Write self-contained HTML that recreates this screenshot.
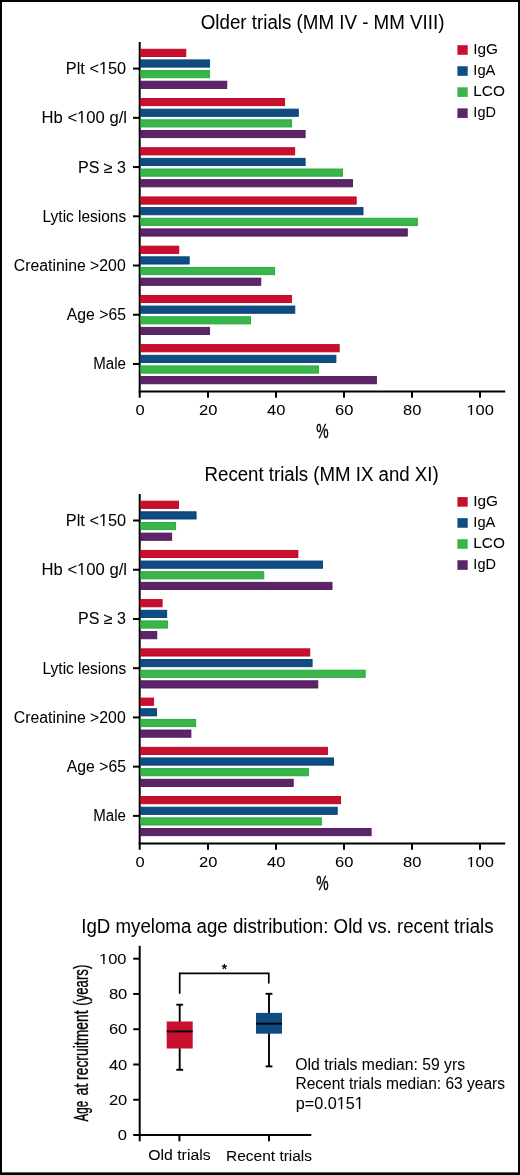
<!DOCTYPE html>
<html><head><meta charset="utf-8"><title>IgD myeloma charts</title><style>html,body{margin:0;padding:0;background:#fff;}svg{display:block;will-change:transform;}</style></head>
<body><svg width="520" height="1175" viewBox="0 0 520 1175" font-family="'Liberation Sans', sans-serif" fill="#000">
<rect x="0" y="0" width="520" height="1175" fill="#fff"/>
<line x1="139.7" y1="42" x2="139.7" y2="397.8" stroke="#000" stroke-width="2.0"/>
<line x1="138.7" y1="391.6" x2="505.2" y2="391.6" stroke="#000" stroke-width="2.0"/>
<line x1="208.00" y1="391.6" x2="208.00" y2="397.8" stroke="#000" stroke-width="2.0"/>
<line x1="276.00" y1="391.6" x2="276.00" y2="397.8" stroke="#000" stroke-width="2.0"/>
<line x1="344.00" y1="391.6" x2="344.00" y2="397.8" stroke="#000" stroke-width="2.0"/>
<line x1="412.00" y1="391.6" x2="412.00" y2="397.8" stroke="#000" stroke-width="2.0"/>
<line x1="480.00" y1="391.6" x2="480.00" y2="397.8" stroke="#000" stroke-width="2.0"/>
<line x1="133" y1="68.60" x2="139.7" y2="68.60" stroke="#000" stroke-width="2.0"/>
<rect x="140.70" y="49.25" width="45.10" height="7.2" fill="#c8102e" stroke="#b8001f" stroke-width="0.9"/>
<rect x="140.70" y="59.90" width="68.90" height="7.2" fill="#0f4c81" stroke="#003f73" stroke-width="0.9"/>
<rect x="140.70" y="70.55" width="68.90" height="7.2" fill="#3ab54a" stroke="#22a83a" stroke-width="0.9"/>
<rect x="140.70" y="81.20" width="86.10" height="7.2" fill="#5c2568" stroke="#4d155a" stroke-width="0.9"/>
<line x1="133" y1="117.83" x2="139.7" y2="117.83" stroke="#000" stroke-width="2.0"/>
<rect x="140.70" y="98.48" width="143.90" height="7.2" fill="#c8102e" stroke="#b8001f" stroke-width="0.9"/>
<rect x="140.70" y="109.13" width="157.60" height="7.2" fill="#0f4c81" stroke="#003f73" stroke-width="0.9"/>
<rect x="140.70" y="119.78" width="150.80" height="7.2" fill="#3ab54a" stroke="#22a83a" stroke-width="0.9"/>
<rect x="140.70" y="130.43" width="164.40" height="7.2" fill="#5c2568" stroke="#4d155a" stroke-width="0.9"/>
<line x1="133" y1="167.06" x2="139.7" y2="167.06" stroke="#000" stroke-width="2.0"/>
<rect x="140.70" y="147.71" width="154.00" height="7.2" fill="#c8102e" stroke="#b8001f" stroke-width="0.9"/>
<rect x="140.70" y="158.36" width="164.40" height="7.2" fill="#0f4c81" stroke="#003f73" stroke-width="0.9"/>
<rect x="140.70" y="169.01" width="201.80" height="7.2" fill="#3ab54a" stroke="#22a83a" stroke-width="0.9"/>
<rect x="140.70" y="179.66" width="211.80" height="7.2" fill="#5c2568" stroke="#4d155a" stroke-width="0.9"/>
<line x1="133" y1="216.29" x2="139.7" y2="216.29" stroke="#000" stroke-width="2.0"/>
<rect x="140.70" y="196.94" width="215.50" height="7.2" fill="#c8102e" stroke="#b8001f" stroke-width="0.9"/>
<rect x="140.70" y="207.59" width="222.30" height="7.2" fill="#0f4c81" stroke="#003f73" stroke-width="0.9"/>
<rect x="140.70" y="218.24" width="276.70" height="7.2" fill="#3ab54a" stroke="#22a83a" stroke-width="0.9"/>
<rect x="140.70" y="228.89" width="266.60" height="7.2" fill="#5c2568" stroke="#4d155a" stroke-width="0.9"/>
<line x1="133" y1="265.52" x2="139.7" y2="265.52" stroke="#000" stroke-width="2.0"/>
<rect x="140.70" y="246.17" width="38.10" height="7.2" fill="#c8102e" stroke="#b8001f" stroke-width="0.9"/>
<rect x="140.70" y="256.82" width="48.50" height="7.2" fill="#0f4c81" stroke="#003f73" stroke-width="0.9"/>
<rect x="140.70" y="267.47" width="133.90" height="7.2" fill="#3ab54a" stroke="#22a83a" stroke-width="0.9"/>
<rect x="140.70" y="278.12" width="120.10" height="7.2" fill="#5c2568" stroke="#4d155a" stroke-width="0.9"/>
<line x1="133" y1="314.75" x2="139.7" y2="314.75" stroke="#000" stroke-width="2.0"/>
<rect x="140.70" y="295.40" width="150.70" height="7.2" fill="#c8102e" stroke="#b8001f" stroke-width="0.9"/>
<rect x="140.70" y="306.05" width="154.10" height="7.2" fill="#0f4c81" stroke="#003f73" stroke-width="0.9"/>
<rect x="140.70" y="316.70" width="109.90" height="7.2" fill="#3ab54a" stroke="#22a83a" stroke-width="0.9"/>
<rect x="140.70" y="327.35" width="68.80" height="7.2" fill="#5c2568" stroke="#4d155a" stroke-width="0.9"/>
<line x1="133" y1="363.98" x2="139.7" y2="363.98" stroke="#000" stroke-width="2.0"/>
<rect x="140.70" y="344.63" width="198.50" height="7.2" fill="#c8102e" stroke="#b8001f" stroke-width="0.9"/>
<rect x="140.70" y="355.28" width="195.20" height="7.2" fill="#0f4c81" stroke="#003f73" stroke-width="0.9"/>
<rect x="140.70" y="365.93" width="177.90" height="7.2" fill="#3ab54a" stroke="#22a83a" stroke-width="0.9"/>
<rect x="140.70" y="376.58" width="235.70" height="7.2" fill="#5c2568" stroke="#4d155a" stroke-width="0.9"/>
<rect x="457.4" y="45.20" width="10.3" height="9.6" fill="#c8102e"/>
<rect x="457.4" y="66.25" width="10.3" height="9.6" fill="#0f4c81"/>
<rect x="457.4" y="87.30" width="10.3" height="9.6" fill="#3ab54a"/>
<rect x="457.4" y="108.35" width="10.3" height="9.6" fill="#5c2568"/>
<line x1="139.7" y1="493.9" x2="139.7" y2="849.7" stroke="#000" stroke-width="2.0"/>
<line x1="138.7" y1="843.5" x2="505.2" y2="843.5" stroke="#000" stroke-width="2.0"/>
<line x1="208.00" y1="843.5" x2="208.00" y2="849.7" stroke="#000" stroke-width="2.0"/>
<line x1="276.00" y1="843.5" x2="276.00" y2="849.7" stroke="#000" stroke-width="2.0"/>
<line x1="344.00" y1="843.5" x2="344.00" y2="849.7" stroke="#000" stroke-width="2.0"/>
<line x1="412.00" y1="843.5" x2="412.00" y2="849.7" stroke="#000" stroke-width="2.0"/>
<line x1="480.00" y1="843.5" x2="480.00" y2="849.7" stroke="#000" stroke-width="2.0"/>
<line x1="133" y1="520.50" x2="139.7" y2="520.50" stroke="#000" stroke-width="2.0"/>
<rect x="140.70" y="501.15" width="37.90" height="7.2" fill="#c8102e" stroke="#b8001f" stroke-width="0.9"/>
<rect x="140.70" y="511.80" width="55.40" height="7.2" fill="#0f4c81" stroke="#003f73" stroke-width="0.9"/>
<rect x="140.70" y="522.45" width="34.90" height="7.2" fill="#3ab54a" stroke="#22a83a" stroke-width="0.9"/>
<rect x="140.70" y="533.10" width="31.00" height="7.2" fill="#5c2568" stroke="#4d155a" stroke-width="0.9"/>
<line x1="133" y1="569.73" x2="139.7" y2="569.73" stroke="#000" stroke-width="2.0"/>
<rect x="140.70" y="550.38" width="157.20" height="7.2" fill="#c8102e" stroke="#b8001f" stroke-width="0.9"/>
<rect x="140.70" y="561.03" width="181.80" height="7.2" fill="#0f4c81" stroke="#003f73" stroke-width="0.9"/>
<rect x="140.70" y="571.68" width="123.10" height="7.2" fill="#3ab54a" stroke="#22a83a" stroke-width="0.9"/>
<rect x="140.70" y="582.33" width="191.30" height="7.2" fill="#5c2568" stroke="#4d155a" stroke-width="0.9"/>
<line x1="133" y1="618.96" x2="139.7" y2="618.96" stroke="#000" stroke-width="2.0"/>
<rect x="140.70" y="599.61" width="21.40" height="7.2" fill="#c8102e" stroke="#b8001f" stroke-width="0.9"/>
<rect x="140.70" y="610.26" width="26.00" height="7.2" fill="#0f4c81" stroke="#003f73" stroke-width="0.9"/>
<rect x="140.70" y="620.91" width="26.80" height="7.2" fill="#3ab54a" stroke="#22a83a" stroke-width="0.9"/>
<rect x="140.70" y="631.56" width="16.10" height="7.2" fill="#5c2568" stroke="#4d155a" stroke-width="0.9"/>
<line x1="133" y1="668.19" x2="139.7" y2="668.19" stroke="#000" stroke-width="2.0"/>
<rect x="140.70" y="648.84" width="169.10" height="7.2" fill="#c8102e" stroke="#b8001f" stroke-width="0.9"/>
<rect x="140.70" y="659.49" width="171.40" height="7.2" fill="#0f4c81" stroke="#003f73" stroke-width="0.9"/>
<rect x="140.70" y="670.14" width="224.50" height="7.2" fill="#3ab54a" stroke="#22a83a" stroke-width="0.9"/>
<rect x="140.70" y="680.79" width="177.10" height="7.2" fill="#5c2568" stroke="#4d155a" stroke-width="0.9"/>
<line x1="133" y1="717.42" x2="139.7" y2="717.42" stroke="#000" stroke-width="2.0"/>
<rect x="140.70" y="698.07" width="12.90" height="7.2" fill="#c8102e" stroke="#b8001f" stroke-width="0.9"/>
<rect x="140.70" y="708.72" width="15.90" height="7.2" fill="#0f4c81" stroke="#003f73" stroke-width="0.9"/>
<rect x="140.70" y="719.37" width="55.00" height="7.2" fill="#3ab54a" stroke="#22a83a" stroke-width="0.9"/>
<rect x="140.70" y="730.02" width="50.20" height="7.2" fill="#5c2568" stroke="#4d155a" stroke-width="0.9"/>
<line x1="133" y1="766.65" x2="139.7" y2="766.65" stroke="#000" stroke-width="2.0"/>
<rect x="140.70" y="747.30" width="186.70" height="7.2" fill="#c8102e" stroke="#b8001f" stroke-width="0.9"/>
<rect x="140.70" y="757.95" width="192.90" height="7.2" fill="#0f4c81" stroke="#003f73" stroke-width="0.9"/>
<rect x="140.70" y="768.60" width="167.80" height="7.2" fill="#3ab54a" stroke="#22a83a" stroke-width="0.9"/>
<rect x="140.70" y="779.25" width="152.50" height="7.2" fill="#5c2568" stroke="#4d155a" stroke-width="0.9"/>
<line x1="133" y1="815.88" x2="139.7" y2="815.88" stroke="#000" stroke-width="2.0"/>
<rect x="140.70" y="796.53" width="199.90" height="7.2" fill="#c8102e" stroke="#b8001f" stroke-width="0.9"/>
<rect x="140.70" y="807.18" width="196.50" height="7.2" fill="#0f4c81" stroke="#003f73" stroke-width="0.9"/>
<rect x="140.70" y="817.83" width="180.70" height="7.2" fill="#3ab54a" stroke="#22a83a" stroke-width="0.9"/>
<rect x="140.70" y="828.48" width="230.40" height="7.2" fill="#5c2568" stroke="#4d155a" stroke-width="0.9"/>
<rect x="457.4" y="497.10" width="10.3" height="9.6" fill="#c8102e"/>
<rect x="457.4" y="518.15" width="10.3" height="9.6" fill="#0f4c81"/>
<rect x="457.4" y="539.20" width="10.3" height="9.6" fill="#3ab54a"/>
<rect x="457.4" y="560.25" width="10.3" height="9.6" fill="#5c2568"/>
<line x1="139.7" y1="945.8" x2="139.7" y2="1141.3" stroke="#000" stroke-width="2.0"/>
<line x1="138.7" y1="1135.0" x2="311.3" y2="1135.0" stroke="#000" stroke-width="2.0"/>
<line x1="133.2" y1="1135.00" x2="139.7" y2="1135.00" stroke="#000" stroke-width="2.0"/>
<line x1="133.2" y1="1099.74" x2="139.7" y2="1099.74" stroke="#000" stroke-width="2.0"/>
<line x1="133.2" y1="1064.48" x2="139.7" y2="1064.48" stroke="#000" stroke-width="2.0"/>
<line x1="133.2" y1="1029.22" x2="139.7" y2="1029.22" stroke="#000" stroke-width="2.0"/>
<line x1="133.2" y1="993.96" x2="139.7" y2="993.96" stroke="#000" stroke-width="2.0"/>
<line x1="133.2" y1="958.70" x2="139.7" y2="958.70" stroke="#000" stroke-width="2.0"/>
<line x1="179.4" y1="1135.0" x2="179.4" y2="1141.3" stroke="#000" stroke-width="2.0"/>
<line x1="269.0" y1="1135.0" x2="269.0" y2="1141.3" stroke="#000" stroke-width="2.0"/>
<line x1="179.7" y1="1004.70" x2="179.7" y2="1069.80" stroke="#000" stroke-width="1.9"/>
<line x1="176.29999999999998" y1="1004.70" x2="183.1" y2="1004.70" stroke="#000" stroke-width="1.9"/>
<line x1="176.29999999999998" y1="1069.80" x2="183.1" y2="1069.80" stroke="#000" stroke-width="1.9"/>
<rect x="166.70" y="1021.50" width="26" height="27.00" fill="#c8102e"/>
<line x1="166.70" y1="1031.40" x2="192.70" y2="1031.40" stroke="#000" stroke-width="1.9"/>
<line x1="269.0" y1="993.80" x2="269.0" y2="1066.40" stroke="#000" stroke-width="1.9"/>
<line x1="265.6" y1="993.80" x2="272.4" y2="993.80" stroke="#000" stroke-width="1.9"/>
<line x1="265.6" y1="1066.40" x2="272.4" y2="1066.40" stroke="#000" stroke-width="1.9"/>
<rect x="256.00" y="1012.90" width="26" height="20.80" fill="#0f4c81"/>
<line x1="256.00" y1="1023.70" x2="282.00" y2="1023.70" stroke="#000" stroke-width="1.9"/>
<polyline points="179.7,993.7 179.7,973.3 268.8,973.3 268.8,983.6" fill="none" stroke="#000" stroke-width="1.7"/>
<path d="M224.40,966.70 L224.40,964.00 M224.40,966.70 L226.97,965.87 M224.40,966.70 L225.99,968.88 M224.40,966.70 L222.81,968.88 M224.40,966.70 L221.83,965.87" stroke="#000" stroke-width="1.25" stroke-linecap="butt" fill="none"/>
<g stroke="#000" stroke-width="0.04">
<text x="200.74" y="28.80" font-size="19.5" textLength="243.70" lengthAdjust="spacingAndGlyphs">Older trials (MM IV - MM VIII)</text>
<text x="204.59" y="480.70" font-size="19.5" textLength="234.08" lengthAdjust="spacingAndGlyphs">Recent trials (MM IX and XI)</text>
<text x="65.87" y="74.10" font-size="15.8" textLength="60.25" lengthAdjust="spacingAndGlyphs">Plt &lt;150</text>
<text x="41.55" y="123.33" font-size="15.8" textLength="85.47" lengthAdjust="spacingAndGlyphs">Hb &lt;100 g/l</text>
<text x="77.98" y="172.56" font-size="15.8" textLength="48.03" lengthAdjust="spacingAndGlyphs">PS ≥ 3</text>
<text x="42.62" y="221.79" font-size="15.8" textLength="83.54" lengthAdjust="spacingAndGlyphs">Lytic lesions</text>
<text x="13.80" y="271.02" font-size="15.8" textLength="111.88" lengthAdjust="spacingAndGlyphs">Creatinine &gt;200</text>
<text x="66.80" y="320.25" font-size="15.8" textLength="59.20" lengthAdjust="spacingAndGlyphs">Age &gt;65</text>
<text x="93.25" y="369.48" font-size="15.8" textLength="32.69" lengthAdjust="spacingAndGlyphs">Male</text>
<text x="135.61" y="415.40" font-size="15" textLength="9.18" lengthAdjust="spacingAndGlyphs">0</text>
<text x="199.02" y="415.40" font-size="15" textLength="18.36" lengthAdjust="spacingAndGlyphs">20</text>
<text x="267.02" y="415.40" font-size="15" textLength="18.36" lengthAdjust="spacingAndGlyphs">40</text>
<text x="335.02" y="415.40" font-size="15" textLength="18.36" lengthAdjust="spacingAndGlyphs">60</text>
<text x="403.02" y="415.40" font-size="15" textLength="18.36" lengthAdjust="spacingAndGlyphs">80</text>
<text x="466.43" y="415.40" font-size="15" textLength="27.53" lengthAdjust="spacingAndGlyphs">100</text>
<text x="316.19" y="437.60" font-size="19.5" textLength="12.36" lengthAdjust="spacingAndGlyphs" stroke-width="0.4">%</text>
<text x="473.31" y="54.30" font-size="15.5" textLength="24.77" lengthAdjust="spacingAndGlyphs">IgG</text>
<text x="473.35" y="75.25" font-size="15.5" textLength="22.10" lengthAdjust="spacingAndGlyphs">IgA</text>
<text x="473.31" y="96.20" font-size="15.5" textLength="31.56" lengthAdjust="spacingAndGlyphs">LCO</text>
<text x="473.37" y="117.15" font-size="15.5" textLength="22.55" lengthAdjust="spacingAndGlyphs">IgD</text>
<text x="65.87" y="526.00" font-size="15.8" textLength="60.25" lengthAdjust="spacingAndGlyphs">Plt &lt;150</text>
<text x="41.55" y="575.23" font-size="15.8" textLength="85.47" lengthAdjust="spacingAndGlyphs">Hb &lt;100 g/l</text>
<text x="77.98" y="624.46" font-size="15.8" textLength="48.03" lengthAdjust="spacingAndGlyphs">PS ≥ 3</text>
<text x="42.62" y="673.69" font-size="15.8" textLength="83.54" lengthAdjust="spacingAndGlyphs">Lytic lesions</text>
<text x="13.80" y="722.92" font-size="15.8" textLength="111.88" lengthAdjust="spacingAndGlyphs">Creatinine &gt;200</text>
<text x="66.80" y="772.15" font-size="15.8" textLength="59.20" lengthAdjust="spacingAndGlyphs">Age &gt;65</text>
<text x="93.25" y="821.38" font-size="15.8" textLength="32.69" lengthAdjust="spacingAndGlyphs">Male</text>
<text x="135.61" y="867.30" font-size="15" textLength="9.18" lengthAdjust="spacingAndGlyphs">0</text>
<text x="199.02" y="867.30" font-size="15" textLength="18.36" lengthAdjust="spacingAndGlyphs">20</text>
<text x="267.02" y="867.30" font-size="15" textLength="18.36" lengthAdjust="spacingAndGlyphs">40</text>
<text x="335.02" y="867.30" font-size="15" textLength="18.36" lengthAdjust="spacingAndGlyphs">60</text>
<text x="403.02" y="867.30" font-size="15" textLength="18.36" lengthAdjust="spacingAndGlyphs">80</text>
<text x="466.43" y="867.30" font-size="15" textLength="27.53" lengthAdjust="spacingAndGlyphs">100</text>
<text x="316.19" y="889.50" font-size="19.5" textLength="12.36" lengthAdjust="spacingAndGlyphs" stroke-width="0.4">%</text>
<text x="473.31" y="506.20" font-size="15.5" textLength="24.77" lengthAdjust="spacingAndGlyphs">IgG</text>
<text x="473.35" y="527.15" font-size="15.5" textLength="22.10" lengthAdjust="spacingAndGlyphs">IgA</text>
<text x="473.31" y="548.10" font-size="15.5" textLength="31.56" lengthAdjust="spacingAndGlyphs">LCO</text>
<text x="473.37" y="569.05" font-size="15.5" textLength="22.55" lengthAdjust="spacingAndGlyphs">IgD</text>
<text x="81.28" y="932.70" font-size="19.5" textLength="412.27" lengthAdjust="spacingAndGlyphs">IgD myeloma age distribution: Old vs. recent trials</text>
<text x="117.70" y="1140.20" font-size="15" textLength="9.18" lengthAdjust="spacingAndGlyphs">0</text>
<text x="108.90" y="1104.94" font-size="15" textLength="18.36" lengthAdjust="spacingAndGlyphs">20</text>
<text x="108.90" y="1069.68" font-size="15" textLength="18.36" lengthAdjust="spacingAndGlyphs">40</text>
<text x="108.90" y="1034.42" font-size="15" textLength="18.36" lengthAdjust="spacingAndGlyphs">60</text>
<text x="108.90" y="999.16" font-size="15" textLength="18.36" lengthAdjust="spacingAndGlyphs">80</text>
<text x="99.00" y="963.90" font-size="15" textLength="27.53" lengthAdjust="spacingAndGlyphs">100</text>
<text x="148.18" y="1160.00" font-size="15.5" textLength="62.48" lengthAdjust="spacingAndGlyphs">Old trials</text>
<text x="226.10" y="1160.60" font-size="15.5" textLength="85.95" lengthAdjust="spacingAndGlyphs">Recent trials</text>
<text transform="translate(87.90,1121.40) rotate(-90)" x="0.00" y="0" font-size="19.5" textLength="20.62" lengthAdjust="spacingAndGlyphs" stroke="#000" stroke-width="0.35">Age</text>
<text transform="translate(87.90,1094.80) rotate(-90)" x="-0.73" y="0" font-size="19.5" textLength="11.93" lengthAdjust="spacingAndGlyphs" stroke="#000" stroke-width="0.35">at</text>
<text transform="translate(87.90,1079.20) rotate(-90)" x="-0.71" y="0" font-size="19.5" textLength="69.39" lengthAdjust="spacingAndGlyphs" stroke="#000" stroke-width="0.35">recruitment</text>
<text transform="translate(87.90,1005.00) rotate(-90)" x="-0.67" y="0" font-size="19.5" textLength="40.93" lengthAdjust="spacingAndGlyphs" stroke="#000" stroke-width="0.35">(years)</text>
<text x="295.30" y="1069.60" font-size="15.8" textLength="169.82" lengthAdjust="spacingAndGlyphs">Old trials median: 59 yrs</text>
<text x="295.52" y="1089.20" font-size="15.8" textLength="209.43" lengthAdjust="spacingAndGlyphs">Recent trials median: 63 years</text>
<text x="295.67" y="1108.80" font-size="15.8" textLength="68.16" lengthAdjust="spacingAndGlyphs">p=0.0151</text>
</g>
<rect x="99.37" y="71.72" width="3.64" height="3.18" fill="#fff"/>
<rect x="104.49" y="71.72" width="3.11" height="3.18" fill="#fff"/>
<rect x="77.57" y="120.95" width="3.70" height="3.18" fill="#fff"/>
<rect x="82.78" y="120.95" width="3.17" height="3.18" fill="#fff"/>
<rect x="466.89" y="413.08" width="3.67" height="3.12" fill="#fff"/>
<rect x="472.06" y="413.08" width="3.14" height="3.12" fill="#fff"/>
<rect x="99.37" y="523.62" width="3.64" height="3.18" fill="#fff"/>
<rect x="104.49" y="523.62" width="3.11" height="3.18" fill="#fff"/>
<rect x="77.57" y="572.85" width="3.70" height="3.18" fill="#fff"/>
<rect x="82.78" y="572.85" width="3.17" height="3.18" fill="#fff"/>
<rect x="466.89" y="864.98" width="3.67" height="3.12" fill="#fff"/>
<rect x="472.06" y="864.98" width="3.14" height="3.12" fill="#fff"/>
<rect x="99.46" y="961.58" width="3.67" height="3.12" fill="#fff"/>
<rect x="104.63" y="961.58" width="3.14" height="3.12" fill="#fff"/>
<rect x="337.18" y="1106.42" width="3.63" height="3.18" fill="#fff"/>
<rect x="342.29" y="1106.42" width="3.10" height="3.18" fill="#fff"/>
<rect x="355.23" y="1106.42" width="3.63" height="3.18" fill="#fff"/>
<rect x="360.33" y="1106.42" width="3.10" height="3.18" fill="#fff"/>
<rect x="1" y="1" width="518" height="1172.6" fill="none" stroke="#000" stroke-width="2"/>
<rect x="0" y="1172.6" width="520" height="2.4" fill="#000"/>
</svg></body></html>
